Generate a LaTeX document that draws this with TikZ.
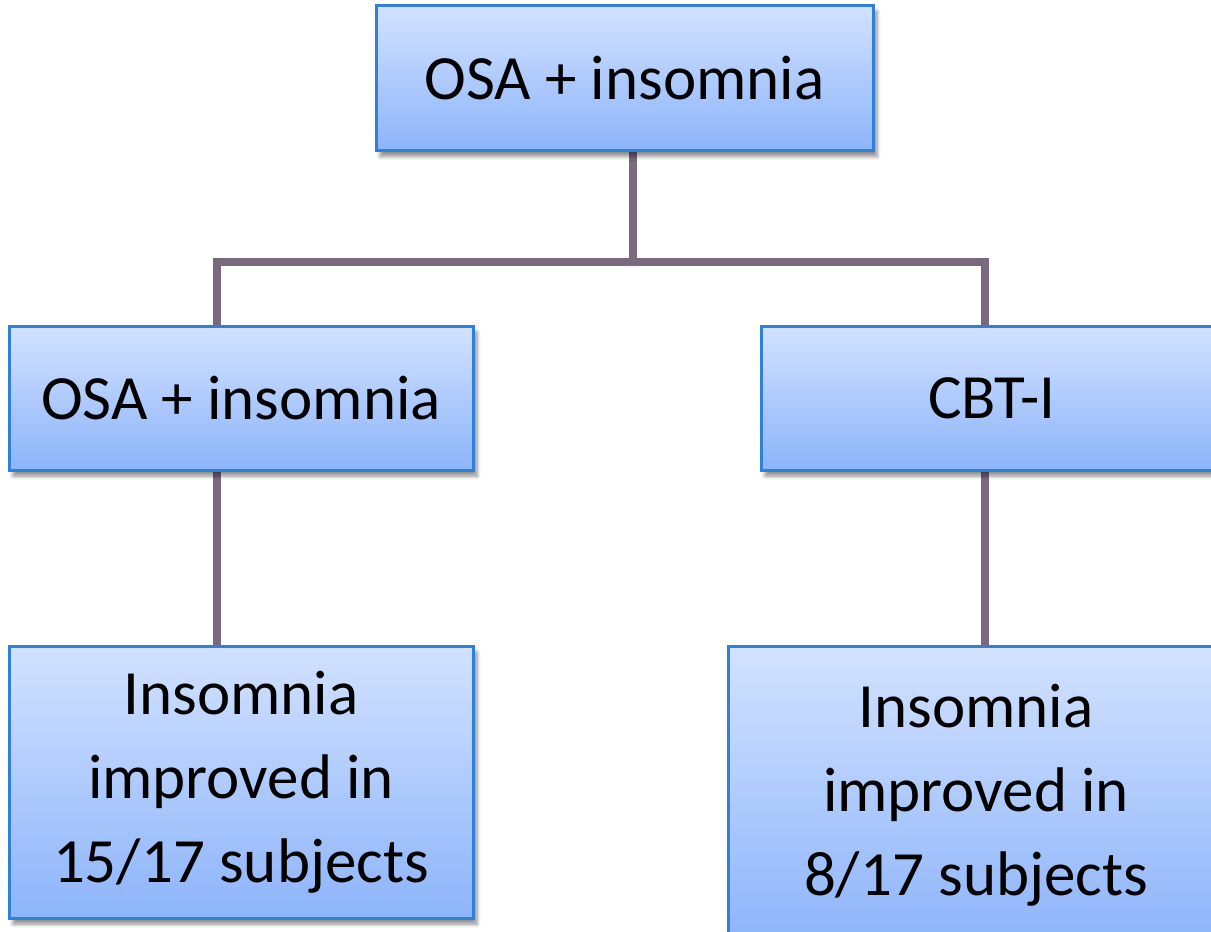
\documentclass[tikz,border=0pt]{standalone}
\usepackage{fontspec}
\setmainfont{Carlito}
\usetikzlibrary{shadows.blur,backgrounds,calc}
\definecolor{boxedge}{RGB}{47,128,218}
\definecolor{boxtop}{RGB}{210,226,255}
\definecolor{boxbot}{RGB}{141,180,250}
\definecolor{link}{RGB}{122,106,128}
\tikzset{
  stepbox/.style={draw=boxedge, line width=1.5pt, top color=boxtop, bottom color=boxbot,
    blur shadow={shadow xshift=2pt, shadow yshift=-3pt, shadow blur steps=6, shadow opacity=45},
    align=center, inner sep=0pt,
    font=\fontsize{31.5}{42}\selectfont},
  linkline/.style={draw=link, line width=4pt}
}
\begin{document}
\begin{tikzpicture}[x=0.5pt,y=-0.5pt]
  \useasboundingbox (0,0) rectangle (1211,932);
  \clip (0,0) rectangle (1211,932);
  % boxes
  \node[stepbox, minimum width=248.5pt, minimum height=72.5pt] (top) at (624.5,78) {OSA + insomnia};
  \node[stepbox, minimum width=232pt, minimum height=72pt] (midL) at (241,398) {OSA + insomnia};
  \node[stepbox, minimum width=231pt, minimum height=72pt] (midR) at (992,398) {CBT-I};
  \node[stepbox, minimum width=232pt, minimum height=136pt] (botL) at (241,782) {Insomnia\\improved in\\15/17 subjects};
  \node[stepbox, minimum width=248pt, minimum height=149pt] (botR) at (976,795) {Insomnia\\improved in\\8/17 subjects};
  % junction points of the tree
  \coordinate (jc) at (633,262);
  \coordinate (jl) at (217,262);
  \coordinate (jr) at (985,262);
  \begin{scope}[on background layer]
    \draw[linkline] (top.south -| jc) -- (jc);
    \draw[linkline] (midL.north -| jl) -- (jl) -- (jr) -- (midR.north -| jr);
    \draw[linkline] (midL.south -| jl) -- (botL.north -| jl);
    \draw[linkline] (midR.south -| jr) -- (botR.north -| jr);
  \end{scope}
\end{tikzpicture}
\end{document}
